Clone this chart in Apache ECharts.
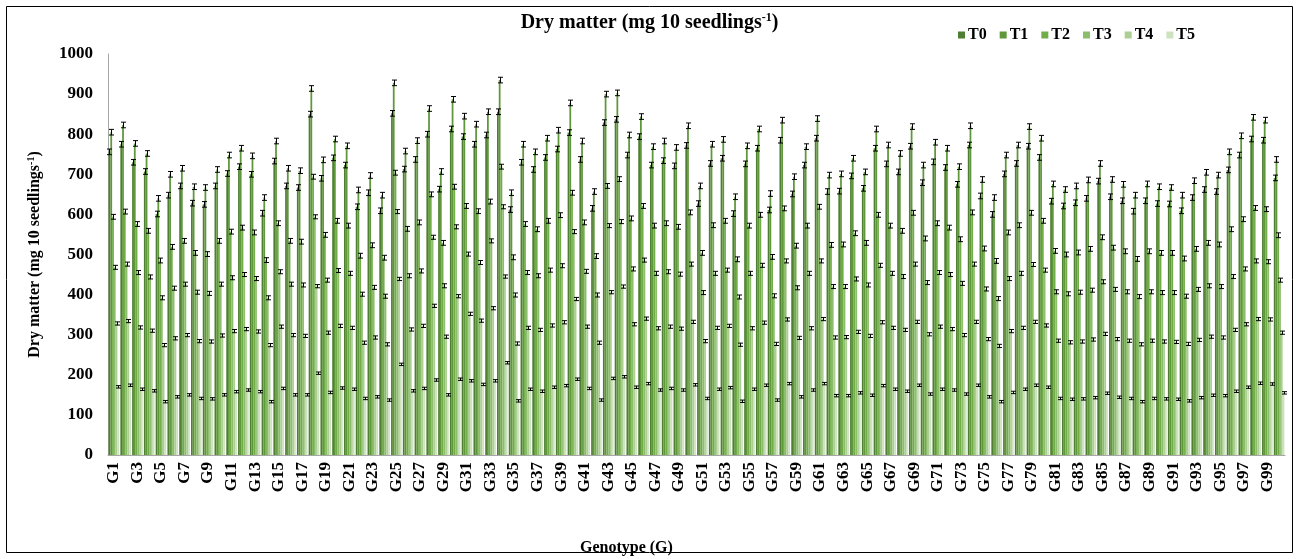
<!DOCTYPE html>
<html>
<head>
<meta charset="utf-8">
<script src="https://cdn.jsdelivr.net/npm/echarts@6/dist/echarts.min.js"></script>
<style>
  html, body { margin: 0; padding: 0; background: #fff; }
  #chart { width: 1299px; height: 559px; }
</style>
</head>
<body>
<div id="chart"></div>
<script>
// genotypes G1..G100
const genotypes = [];
for (let i = 1; i <= 100; i++) genotypes.push('G' + i);

const treatments = ['T0', 'T1', 'T2', 'T3', 'T4', 'T5'];

// dry matter (mg 10 seedlings-1)
const t0 = [756,775,730,707,601,648,671,628,625,671,702,719,700,603,733,671,667,850,690,741,
  723,619,654,609,852,713,737,800,663,813,794,775,798,856,612,730,712,742,763,804,
  737,615,829,837,748,794,723,734,721,772,627,727,740,602,726,765,611,785,651,723,
  790,657,658,696,665,765,726,706,770,679,731,717,675,773,646,600,701,727,770,742,
  633,621,629,640,683,644,634,608,634,627,626,609,642,662,657,711,748,788,785,691];
const t1 = [805,823,777,752,640,700,715,669,667,712,748,765,746,642,783,715,709,914,736,788,
  771,661,697,648,928,758,784,864,707,887,845,825,856,935,654,775,756,790,810,878,
  783,657,900,903,798,844,769,783,767,821,671,775,787,644,771,813,652,835,694,769,
  839,698,701,740,706,813,773,752,819,723,780,765,719,821,687,642,748,773,819,790,
  676,662,671,686,727,687,675,648,676,669,667,648,684,705,698,756,796,842,835,737];
const t2 = [594,607,576,559,485,519,534,504,501,534,557,567,555,486,578,534,532,694,549,584,
  572,497,523,492,704,564,580,650,529,669,621,608,632,719,493,576,563,584,598,654,
  580,496,671,688,590,621,572,578,569,605,504,573,584,488,572,599,494,615,522,572,
  619,524,525,553,529,599,572,559,604,540,578,567,538,605,515,484,555,573,604,584,
  509,500,505,514,543,517,508,489,508,504,504,490,514,529,525,563,588,616,613,548];
const t3 = [468,476,455,444,392,416,426,406,403,426,442,450,440,392,457,426,424,594,436,460,
  453,401,418,396,607,447,459,543,422,569,501,480,534,619,399,455,447,461,472,557,
  458,399,572,582,464,486,453,457,451,476,405,453,461,394,453,473,397,484,417,453,
  484,420,420,439,424,473,453,445,476,430,455,450,428,476,414,390,440,453,475,461,
  407,402,406,411,432,413,407,395,407,405,405,396,413,422,420,445,464,484,482,436];
const t4 = [328,334,318,310,274,291,299,284,283,298,309,314,308,274,320,299,297,421,305,322,
  317,280,293,276,439,313,322,372,295,396,352,335,366,445,278,317,312,323,331,389,
  320,280,406,420,326,340,316,320,315,332,284,317,322,275,316,330,277,338,292,316,
  339,293,294,307,297,331,317,312,332,301,320,314,299,332,289,272,309,317,332,323,
  285,281,283,288,302,289,285,276,285,283,282,277,287,295,293,312,326,339,338,305];
const t5 = [170,174,164,160,133,145,150,141,140,150,158,162,158,133,166,150,150,204,156,167,
  164,141,145,137,226,160,166,187,150,189,185,176,185,230,135,164,159,169,173,189,
  166,137,191,195,169,178,162,166,162,175,141,164,168,134,164,174,137,178,145,162,
  178,148,148,155,149,173,164,159,174,152,164,162,152,174,145,133,156,164,174,169,
  141,139,140,143,154,144,141,133,141,140,139,135,143,149,148,159,169,179,177,155];

// half length of error bars per treatment
const errs = [7, 7, 6, 5, 4, 3];

const colors = ['#4f7f32', '#5f973b', '#70ad47', '#8cbd6b', '#abcf93', '#cde2bf'];
const yTicks = [0, 100, 200, 300, 400, 500, 600, 700, 800, 900, 1000];

const serif = "'Liberation Serif', 'Times New Roman', serif";
const seriesData = [t0, t1, t2, t3, t4, t5];

const chart = echarts.init(document.getElementById('chart'));

const series = [];
treatments.forEach((name, k) => {
  series.push({
    name: name,
    type: 'bar',
    data: seriesData[k],
    barGap: '0%',
    barCategoryGap: '10%',
    itemStyle: { color: colors[k] },
    silent: true
  });
});

// error bars, drawn on top of each bar
treatments.forEach((name, k) => {
  series.push({
    type: 'custom',
    silent: true,
    z: 5,
    data: seriesData[k].map((v, i) => [i, v, errs[k]]),
    encode: { x: 0, y: 1 },
    renderItem: (params, api) => {
      const i = api.value(0), v = api.value(1), e = api.value(2);
      const band = api.size([1, 0])[0];
      const bw = band * 0.9 / 6;
      const off = (k - 2.5) * bw;
      const hi = api.coord([i, v + e]);
      const lo = api.coord([i, v - e]);
      const x = Math.round(hi[0] + off) + 0.5;
      const cw = 2.5;
      const st = { stroke: '#000', lineWidth: 1 };
      return {
        type: 'group',
        children: [
          { type: 'line', shape: { x1: x, y1: hi[1], x2: x, y2: lo[1] }, style: st },
          { type: 'line', shape: { x1: x - cw, y1: hi[1], x2: x + cw, y2: hi[1] }, style: st },
          { type: 'line', shape: { x1: x - cw, y1: lo[1], x2: x + cw, y2: lo[1] }, style: st }
        ]
      };
    }
  });
});

const option = {
  animation: false,
  title: {
    text: '{a|Dry matter (mg 10 seedlings}{s|-1}{a|)}',
    left: 'center',
    top: 7,
    textStyle: {
      rich: {
        a: { fontFamily: serif, fontWeight: 'bold', fontSize: 20, color: '#000', lineHeight: 22 },
        s: { fontFamily: serif, fontWeight: 'bold', fontSize: 12, color: '#000', lineHeight: 12, verticalAlign: 'top' }
      }
    }
  },
  legend: {
    data: treatments,
    left: 953,
    top: 22,
    icon: 'rect',
    itemWidth: 7,
    itemHeight: 7,
    itemGap: 13,
    textStyle: { fontFamily: serif, fontWeight: 'bold', fontSize: 16, color: '#000', padding: [0, 0, 0, -2] }
  },
  grid: { left: 108, right: 14, top: 54, bottom: 104 },
  xAxis: {
    type: 'category',
    data: genotypes,
    axisLine: { lineStyle: { color: '#a6a6a6' } },
    axisTick: { show: false },
    axisLabel: {
      interval: 1,
      rotate: 90,
      margin: 7,
      fontFamily: serif,
      fontWeight: 'bold',
      fontSize: 17,
      color: '#000'
    }
  },
  yAxis: {
    type: 'value',
    min: 0,
    max: 1000,
    interval: 100,
    name: '{a|Dry matter (mg 10 seedlings}{s|-1}{a|)}',
    nameLocation: 'middle',
    nameRotate: 90,
    nameGap: 64,
    nameTextStyle: {
      rich: {
        a: { fontFamily: serif, fontWeight: 'bold', fontSize: 16, color: '#000', lineHeight: 18 },
        s: { fontFamily: serif, fontWeight: 'bold', fontSize: 10, color: '#000', lineHeight: 10, verticalAlign: 'top' }
      }
    },
    axisLine: { show: true, lineStyle: { color: '#a6a6a6' } },
    axisTick: { show: false },
    splitLine: { show: false },
    axisLabel: {
      margin: 15,
      fontFamily: serif,
      fontWeight: 'bold',
      fontSize: 17,
      color: '#000',
      formatter: v => (yTicks.indexOf(v) >= 0 ? String(v) : '')
    }
  },
  graphic: [
    {
      type: 'rect',
      silent: true,
      shape: { x: 6.5, y: 6.5, width: 1286, height: 546 },
      style: { fill: 'none', stroke: '#000', lineWidth: 1 }
    },
    {
      type: 'text',
      silent: true,
      left: 580,
      top: 540,
      style: { text: 'Genotype (G)', font: 'bold 16px ' + serif, fill: '#000' }
    }
  ],
  series: series
};

chart.setOption(option);
window.addEventListener('resize', () => chart.resize());
</script>
</body>
</html>
